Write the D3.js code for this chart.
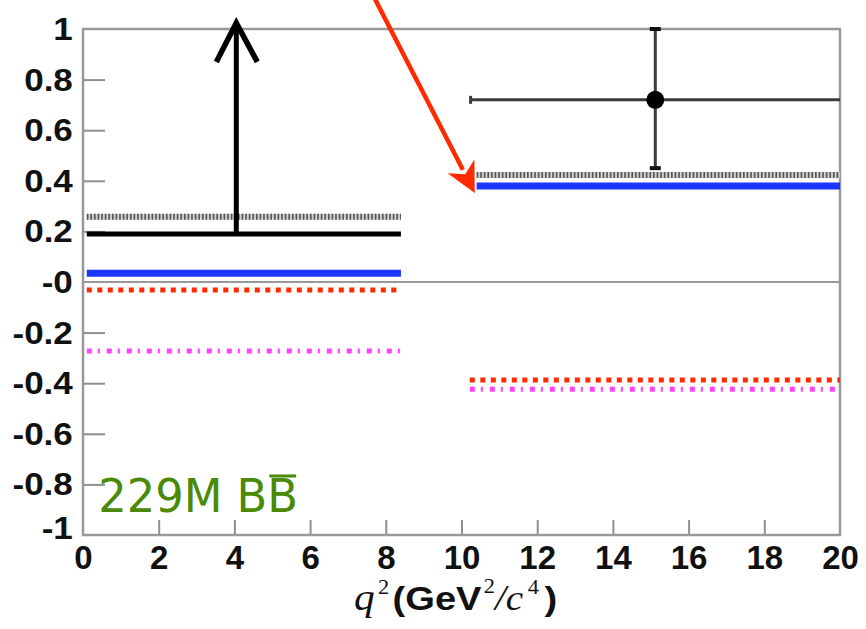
<!DOCTYPE html>
<html>
<head>
<meta charset="utf-8">
<script src="https://cdn.jsdelivr.net/npm/d3@7"></script>
<style>
  html, body { margin: 0; padding: 0; background: #fff; }
  svg { display: block; }
</style>
</head>
<body>
<svg id="chart" width="866" height="629"></svg>
<script>
// ---- data ----
const xTickValues = [0, 2, 4, 6, 8, 10, 12, 14, 16, 18, 20];
const yTickValues = [1, 0.8, 0.6, 0.4, 0.2, 0, -0.2, -0.4, -0.6, -0.8, -1];
const yTickLabels = ["1", "0.8", "0.6", "0.4", "0.2", "-0", "-0.2", "-0.4", "-0.6", "-0.8", "-1"];

// q² bins for the model predictions
const binStart = [0.1, 10.4];
const binEnd = [8.4, 20];
const binStartLow = [0.1, 10.22];

// model predictions per bin
const smModel = [0.035, 0.379];       // blue solid
const grayModel = [0.258, 0.423];     // gray dotted
const redModel = [-0.032, -0.387];    // red dotted
const magentaModel = [-0.273, -0.424];// magenta dash-dot

// low-q² bin: lower limit with an upward arrow
const limitRange = [0.1, 8.4];
const limitValue = 0.19;
const limitArrowQ2 = 4.05;
const limitArrowTop = 1.024;

// high-q² bin: measured point with errors
const pointQ2 = 15.12;
const pointValue = 0.72;
const pointQ2Range = [10.24, 20];
const pointValueRange = [0.45, 1.0];

// annotation arrow (start, tip) in data coordinates
const noteArrowStart = [7.66, 1.134];
const noteArrowTip = [10.35, 0.352];

const sampleLabel = "229M BB";

// ---- layout ----
const svg = d3.select("#chart");
const x = d3.scaleLinear().domain([0, 20]).range([83, 840]);
const y = d3.scaleLinear().domain([-1, 1]).range([535, 29]);

const axisGray = "#8f8f8f";

// y axis (inward ticks)
const yAxis = d3.axisLeft(y)
  .tickValues(yTickValues)
  .tickSize(-22)
  .tickPadding(9)
  .tickFormat((d, i) => yTickLabels[i]);
const gy = svg.append("g").attr("transform", `translate(${x(0)},0)`).call(yAxis);
gy.select(".domain").remove();
gy.selectAll(".tick line")
  .attr("stroke", axisGray).attr("stroke-width", 2)
  .attr("display", d => (d === 1 || d === -1 || d === 0) ? "none" : null);
gy.selectAll(".tick text")
  .attr("fill", "#111")
  .style("font-family", "'Liberation Sans', Arial, sans-serif")
  .style("font-weight", "bold")
  .style("font-size", "31px")
  .attr("transform", "scale(1.13,1)")
  .attr("dy", d => d === -1 ? "0.12em" : "0.34em");

// x axis (inward ticks)
const xAxis = d3.axisBottom(x)
  .tickValues(xTickValues)
  .tickSize(-15)
  .tickPadding(11);
const gx = svg.append("g").attr("transform", `translate(0,${y(-1)})`).call(xAxis);
gx.select(".domain").remove();
gx.selectAll(".tick line")
  .attr("stroke", axisGray).attr("stroke-width", 2)
  .attr("display", d => (d === 0 || d === 20) ? "none" : null);
gx.selectAll(".tick text")
  .attr("fill", "#111")
  .style("font-family", "'Liberation Sans', Arial, sans-serif")
  .style("font-weight", "bold")
  .style("font-size", "33px");

// frame and zero line
svg.append("rect")
  .attr("x", x(0)).attr("y", y(1))
  .attr("width", x(20) - x(0)).attr("height", y(-1) - y(1))
  .attr("fill", "none").attr("stroke", "#999").attr("stroke-width", 2.5);
svg.append("line")
  .attr("x1", x(0)).attr("x2", x(20))
  .attr("y1", y(0)).attr("y2", y(0))
  .attr("stroke", "#999").attr("stroke-width", 2);

// ---- model lines ----
const segs = (vals, starts) => vals.map((v, i) => ({ x1: starts[i], x2: binEnd[i], v }));

function drawModel(data, style) {
  svg.append("g").selectAll("line").data(data).join("line")
    .attr("x1", d => x(d.x1)).attr("x2", d => x(d.x2))
    .attr("y1", d => y(d.v)).attr("y2", d => y(d.v))
    .attr("stroke", style.color)
    .attr("stroke-width", style.width)
    .attr("stroke-dasharray", style.dash || null);
}

// gray dotted: light band with dense dark ticks
drawModel(segs(grayModel, binStart), { color: "#cfcfcf", width: 6 });
drawModel(segs(grayModel, binStart), { color: "#555", width: 6, dash: "1.6,2" });
// red dotted
drawModel(segs(redModel, binStartLow), { color: "#ff2a00", width: 5, dash: "5,5.5" });
// magenta dash-dot
drawModel(segs(magentaModel, binStartLow), { color: "#ff40ff", width: 5, dash: "5,6,2,7" });
// blue solid
drawModel(segs(smModel, binStart), { color: "#1a36ff", width: 7 });

// ---- low-q² lower limit ----
svg.append("line")
  .attr("x1", x(limitRange[0])).attr("x2", x(limitRange[1]))
  .attr("y1", y(limitValue)).attr("y2", y(limitValue))
  .attr("stroke", "#000").attr("stroke-width", 5);
svg.append("line")
  .attr("x1", x(limitArrowQ2)).attr("x2", x(limitArrowQ2))
  .attr("y1", y(limitValue)).attr("y2", y(limitArrowTop) + 2)
  .attr("stroke", "#000").attr("stroke-width", 5);
{
  const tx = x(limitArrowQ2), ty = y(limitArrowTop);
  const p = d3.path();
  p.moveTo(tx - 20, ty + 39);
  p.lineTo(tx, ty);
  p.lineTo(tx + 21, ty + 39);
  svg.append("path").attr("d", p.toString())
    .attr("fill", "none").attr("stroke", "#000").attr("stroke-width", 5.5)
    .attr("stroke-linejoin", "miter");
}

// ---- high-q² measurement ----
const errColor = "#3a3a3a";
svg.append("line")
  .attr("x1", x(pointQ2Range[0])).attr("x2", x(pointQ2Range[1]))
  .attr("y1", y(pointValue)).attr("y2", y(pointValue))
  .attr("stroke", errColor).attr("stroke-width", 3);
svg.append("line")
  .attr("x1", x(pointQ2)).attr("x2", x(pointQ2))
  .attr("y1", y(pointValueRange[0])).attr("y2", y(pointValueRange[1]))
  .attr("stroke", errColor).attr("stroke-width", 3);
// caps
pointValueRange.forEach(v => {
  svg.append("line")
    .attr("x1", x(pointQ2) - 5.5).attr("x2", x(pointQ2) + 5.5)
    .attr("y1", y(v)).attr("y2", y(v))
    .attr("stroke", "#111").attr("stroke-width", 4);
});
svg.append("line")
  .attr("x1", x(pointQ2Range[0])).attr("x2", x(pointQ2Range[0]))
  .attr("y1", y(pointValue) - 4).attr("y2", y(pointValue) + 4)
  .attr("stroke", errColor).attr("stroke-width", 3);
svg.append("circle")
  .attr("cx", x(pointQ2)).attr("cy", y(pointValue)).attr("r", 9)
  .attr("fill", "#000");

// ---- sample label ----
const label = svg.append("text")
  .attr("x", x(0.4)).attr("y", y(-0.909))
  .attr("fill", "#4a8a06")
  .style("font-family", "'DejaVu Sans', sans-serif")
  .style("font-size", "46px")
  .attr("textLength", 200)
  .attr("lengthAdjust", "spacingAndGlyphs")
  .text(sampleLabel);
{
  const n = sampleLabel.length;
  const ext = label.node().getExtentOfChar(n - 1);
  svg.append("line")
    .attr("x1", ext.x + 2).attr("x2", ext.x + ext.width - 2)
    .attr("y1", y(-0.909) - 36).attr("y2", y(-0.909) - 36)
    .attr("stroke", "#4a8a06").attr("stroke-width", 3);
}

// ---- x-axis title: q²(GeV²/c⁴) ----
const xt = svg.append("text")
  .attr("transform", "translate(354,610) scale(1.12,1)")
  .attr("fill", "#111");
xt.append("tspan").text("q")
  .style("font-family", "'Liberation Serif', 'Times New Roman', serif")
  .style("font-style", "italic").style("font-size", "37px");
xt.append("tspan").text("2").attr("dx", 3).attr("dy", -16)
  .style("font-family", "'Liberation Serif', serif").style("font-size", "20px");
xt.append("tspan").text("(GeV").attr("dx", 3).attr("dy", 16)
  .style("font-family", "'Liberation Sans', Arial, sans-serif")
  .style("font-weight", "bold").style("font-size", "34px");
xt.append("tspan").text("2").attr("dx", 2).attr("dy", -17)
  .style("font-family", "'Liberation Serif', serif").style("font-size", "20px");
xt.append("tspan").text("/c").attr("dy", 17)
  .style("font-family", "'Liberation Serif', serif")
  .style("font-style", "italic").style("font-size", "35px");
xt.append("tspan").text("4").attr("dx", 4).attr("dy", -16)
  .style("font-family", "'Liberation Serif', serif").style("font-size", "20px");
xt.append("tspan").text(")").attr("dx", 5).attr("dy", 16)
  .style("font-family", "'Liberation Sans', Arial, sans-serif")
  .style("font-weight", "bold").style("font-size", "34px");

// ---- red annotation arrow ----
{
  const sx = x(noteArrowStart[0]), sy = y(noteArrowStart[1]);
  const tx = x(noteArrowTip[0]), ty = y(noteArrowTip[1]);
  const dx = tx - sx, dy = ty - sy, len = Math.hypot(dx, dy);
  const ux = dx / len, uy = dy / len, px = -uy, py = ux;
  const headLen = 30, halfW = 15;
  const bx = tx - ux * headLen, by = ty - uy * headLen;
  const red = "#ff2a00";
  svg.append("line")
    .attr("x1", sx).attr("y1", sy)
    .attr("x2", tx - ux * (headLen - 4)).attr("y2", ty - uy * (headLen - 4))
    .attr("stroke", red).attr("stroke-width", 4.5);
  const p = d3.path();
  p.moveTo(tx, ty);
  p.lineTo(bx + px * halfW, by + py * halfW);
  p.lineTo(tx - ux * (headLen - 9), ty - uy * (headLen - 9));
  p.lineTo(bx - px * halfW, by - py * halfW);
  p.closePath();
  svg.append("path").attr("d", p.toString()).attr("fill", red);
}
</script>
</body>
</html>
